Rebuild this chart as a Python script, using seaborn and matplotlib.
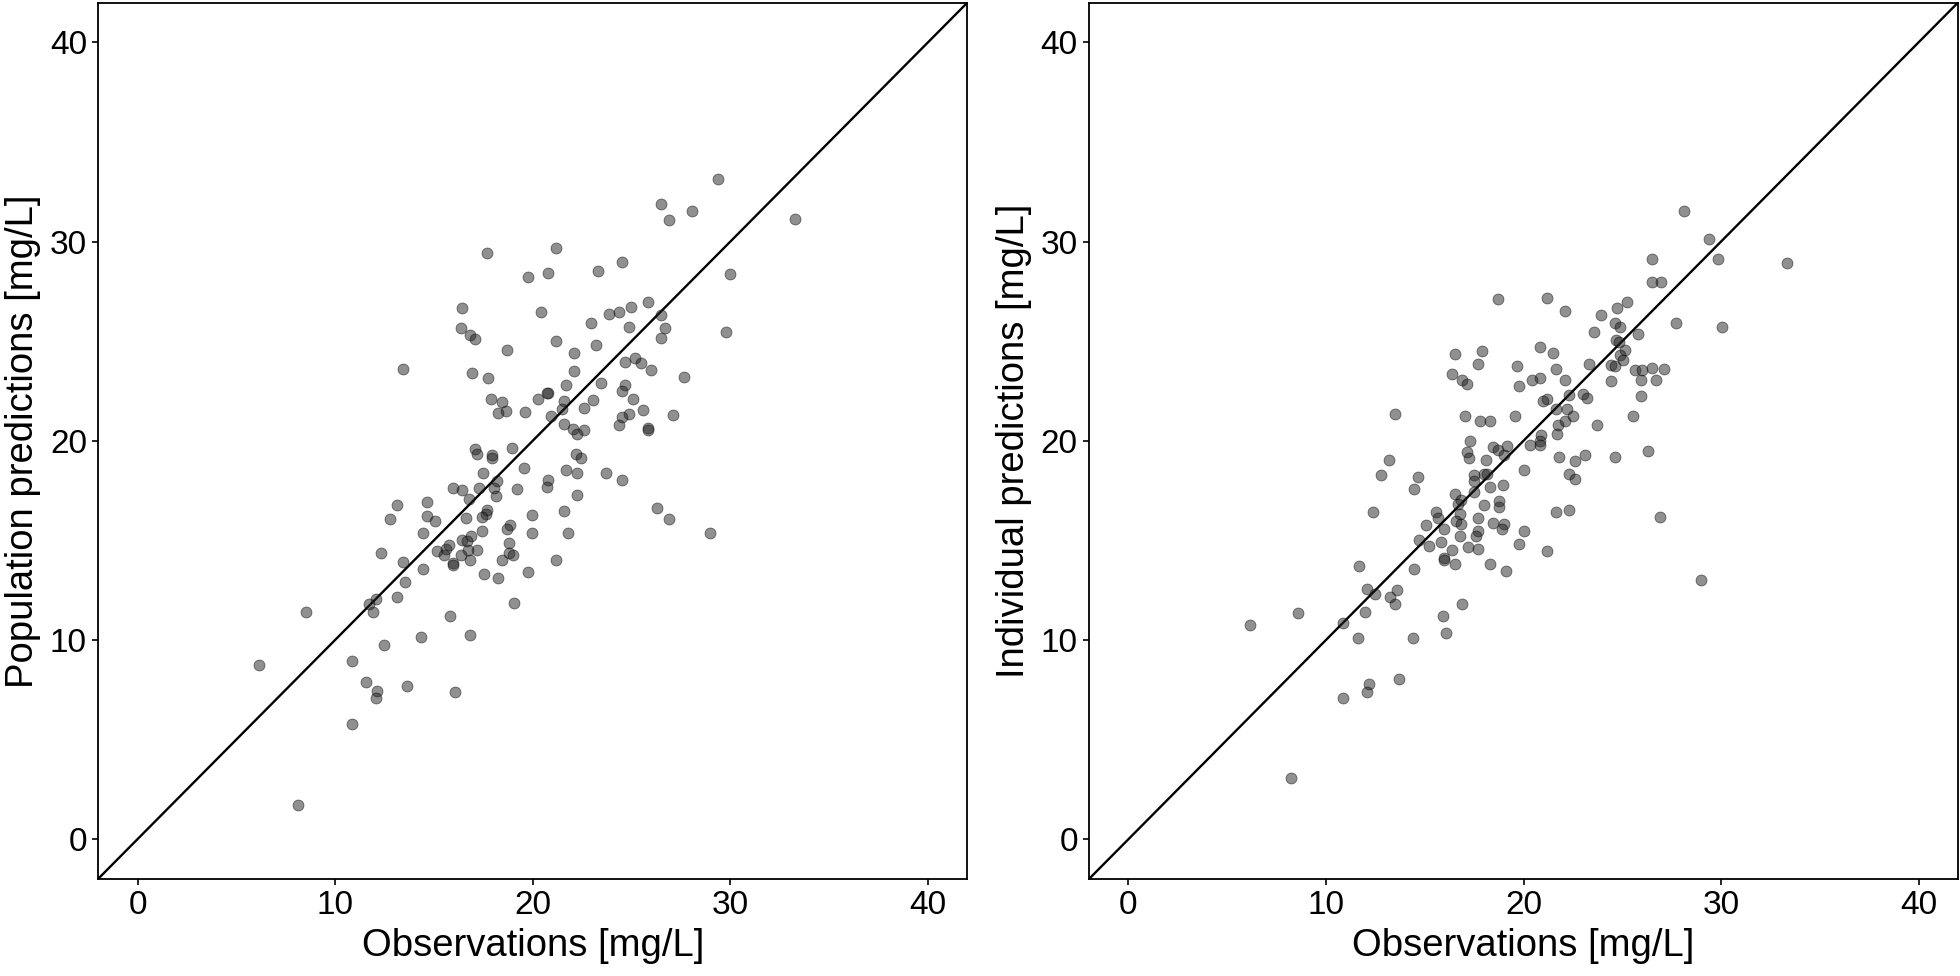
import numpy as np
import pandas as pd
import matplotlib
matplotlib.use("Agg")
import matplotlib.pyplot as plt
import seaborn as sns

# Left panel: observations vs population predictions [mg/L]
obs_pred = [29.39, 26.48, 28.06, 26.89, 33.29, 17.67, 21.16, 24.54, 20.78, 19.76,
            23.28, 29.99, 25.81, 24.99, 24.35, 23.88, 20.40, 16.44, 26.48, 22.96,
            24.86, 26.70, 29.77, 16.37, 16.85, 17.10, 26.48, 21.16, 23.18, 18.69,
            22.07, 25.18, 24.67, 25.46, 13.46, 22.07, 25.97, 16.94, 17.74, 27.68,
            23.47, 21.66, 24.67, 24.54, 20.78, 20.70, 17.89, 20.27, 18.43, 21.57,
            23.06, 25.05, 22.58, 21.47, 19.63, 18.65, 18.24, 25.59, 20.93, 24.86,
            24.54, 27.08, 21.57, 24.35, 22.04, 22.58, 22.26, 25.84, 25.84, 17.07,
            18.97, 17.17, 17.96, 17.93, 22.17, 22.45, 19.57, 17.48, 21.66, 22.26,
            23.69, 18.21, 24.54, 20.78, 20.74, 15.99, 16.44, 17.26, 18.02, 19.19,
            22.26, 18.15, 16.75, 14.66, 13.14, 26.29, 21.57, 14.66, 19.95, 17.67,
            17.64, 17.45, 16.63, 15.07, 12.76, 26.89, 18.84, 18.72, 17.45, 14.44,
            19.95, 21.76, 28.98, 16.88, 16.44, 16.66, 18.81, 15.17, 15.61, 15.77,
            17.17, 16.72, 18.81, 19.00, 16.37, 12.32, 15.52, 15.96, 15.99, 16.85,
            18.46, 21.16, 13.46, 14.47, 17.55, 19.76, 18.24, 13.54, 13.14, 12.07,
            11.69, 19.07, 8.55, 11.94, 15.83, 14.35, 16.85, 12.45, 10.86, 6.14,
            11.56, 12.13, 13.65, 16.06, 12.07, 10.86, 8.14]
pred = [33.16, 31.91, 31.54, 31.10, 31.13, 29.45, 29.66, 28.98, 28.42, 28.23,
        28.51, 28.35, 26.98, 26.70, 26.45, 26.35, 26.48, 26.64, 26.32, 25.92,
        25.73, 25.64, 25.45, 25.67, 25.29, 25.10, 25.17, 25.01, 24.79, 24.57,
        24.42, 24.14, 23.95, 23.89, 23.61, 23.51, 23.54, 23.39, 23.14, 23.20,
        22.89, 22.79, 22.79, 22.51, 22.39, 22.42, 22.11, 22.11, 21.95, 21.98,
        22.05, 22.08, 21.64, 21.61, 21.45, 21.48, 21.39, 21.55, 21.23, 21.36,
        21.20, 21.30, 20.86, 20.80, 20.58, 20.55, 20.33, 20.64, 20.52, 19.58,
        19.64, 19.33, 19.30, 19.14, 19.33, 19.14, 18.64, 18.36, 18.55, 18.39,
        18.39, 17.99, 18.02, 18.05, 17.67, 17.64, 17.52, 17.61, 17.64, 17.58,
        17.30, 17.24, 17.08, 16.92, 16.77, 16.61, 16.46, 16.24, 16.27, 16.52,
        16.33, 16.17, 16.11, 15.96, 16.08, 16.08, 15.77, 15.58, 15.49, 15.39,
        15.36, 15.39, 15.36, 15.24, 15.02, 14.99, 14.86, 14.46, 14.58, 14.77,
        14.52, 14.52, 14.39, 14.24, 14.24, 14.39, 14.27, 13.86, 13.74, 13.99,
        14.02, 13.99, 13.93, 13.58, 13.33, 13.43, 13.11, 12.90, 12.18, 12.05,
        11.80, 11.87, 11.40, 11.40, 11.21, 10.15, 10.24, 9.74, 8.96, 8.74,
        7.87, 7.46, 7.68, 7.37, 7.09, 5.78, 1.72]

# Right panel: observations vs individual predictions [mg/L]
obs_ipred = [28.15, 29.41, 26.53, 29.86, 33.34, 26.53, 26.94, 18.70, 21.20, 25.23,
             24.72, 22.12, 23.90, 27.70, 24.63, 24.91, 30.05, 23.55, 25.80, 24.69,
             24.82, 20.82, 25.13, 17.88, 16.51, 21.49, 24.91, 25.04, 17.69, 19.68,
             23.33, 24.41, 24.63, 21.62, 25.64, 26.02, 26.53, 27.13, 16.39, 20.82,
             20.41, 16.89, 22.12, 24.41, 25.93, 26.72, 17.12, 19.78, 22.31, 23.01,
             23.20, 25.93, 21.20, 21.01, 21.62, 22.22, 13.50, 17.02, 19.59, 22.50,
             25.52, 17.81, 18.29, 22.12, 21.74, 23.71, 21.71, 20.89, 17.31, 20.82,
             20.82, 20.32, 19.18, 18.48, 26.31, 17.12, 18.73, 19.02, 23.11, 21.81,
             24.63, 17.24, 13.19, 18.10, 22.60, 20.00, 18.00, 12.80, 17.50, 18.13,
             22.31, 14.68, 22.60, 17.50, 18.95, 18.29, 14.48, 16.51, 17.50, 16.83,
             18.76, 16.67, 18.00, 18.76, 12.39, 15.59, 16.77, 21.62, 22.31, 26.91,
             15.69, 17.69, 16.58, 16.86, 15.06, 18.48, 19.02, 15.98, 17.72, 20.00,
             18.92, 16.80, 17.59, 14.71, 15.82, 19.78, 15.21, 16.39, 17.21, 17.72,
             21.20, 15.98, 15.98, 16.51, 18.29, 11.66, 14.48, 19.11, 29.00, 12.08,
             13.60, 12.49, 13.22, 13.50, 16.89, 8.59, 11.98, 15.91, 6.15, 10.87,
             11.60, 14.39, 16.10, 13.69, 12.20, 12.08, 10.87, 8.21]
ipred = [31.54, 30.13, 29.10, 29.10, 28.91, 27.95, 27.95, 27.13, 27.17, 26.98,
         26.64, 26.51, 26.32, 25.89, 25.92, 25.73, 25.73, 25.45, 25.36, 25.04,
         24.98, 24.70, 24.54, 24.51, 24.36, 24.42, 24.29, 24.04, 23.83, 23.76,
         23.83, 23.79, 23.76, 23.58, 23.54, 23.54, 23.67, 23.58, 23.33, 23.17,
         23.04, 23.04, 23.04, 23.01, 23.04, 23.04, 22.86, 22.76, 22.30, 22.33,
         22.17, 22.26, 22.08, 21.98, 21.58, 21.58, 21.33, 21.26, 21.23, 21.26,
         21.26, 20.98, 20.98, 20.98, 20.80, 20.80, 20.36, 20.30, 19.98, 19.98,
         19.77, 19.80, 19.73, 19.70, 19.48, 19.45, 19.55, 19.27, 19.30, 19.20,
         19.20, 19.11, 19.02, 19.02, 18.99, 18.55, 18.33, 18.30, 18.27, 18.33,
         18.33, 18.20, 18.08, 17.99, 17.80, 17.67, 17.58, 17.33, 17.42, 17.05,
         16.96, 16.83, 16.80, 16.67, 16.42, 16.42, 16.33, 16.42, 16.52, 16.17,
         16.11, 16.11, 15.96, 15.83, 15.77, 15.89, 15.83, 15.58, 15.49, 15.49,
         15.55, 15.24, 15.21, 15.02, 14.93, 14.83, 14.71, 14.52, 14.68, 14.58,
         14.46, 14.11, 14.02, 13.80, 13.83, 13.71, 13.58, 13.46, 13.02, 12.58,
         12.49, 12.33, 12.18, 11.83, 11.83, 11.37, 11.40, 11.18, 10.77, 10.87,
         10.09, 10.12, 10.34, 8.06, 7.78, 7.37, 7.09, 3.09]

ticks = [0, 10, 20, 30, 40]
lims = (-2, 42)
x_label = "Observations [mg/L]"
y_labels = ["Population predictions [mg/L]", "Individual predictions [mg/L]"]

sns.set_style("white")
plt.rcParams['font.family'] = ['Liberation Sans', 'DejaVu Sans']

fig = plt.figure(figsize=(19.6, 9.76), dpi=100)
ax_left = fig.add_axes([0.050, 0.0994, 0.4436, 0.898])
ax_right = fig.add_axes([0.5556, 0.0994, 0.4434, 0.898])

panels = [
    (ax_left, pd.DataFrame({"obs": obs_pred, "pred": pred}), y_labels[0]),
    (ax_right, pd.DataFrame({"obs": obs_ipred, "pred": ipred}), y_labels[1]),
]

for ax, df, ylab in panels:
    sns.scatterplot(data=df, x="obs", y="pred", ax=ax, color="#222222",
                    alpha=0.5, s=62, linewidth=0.6, edgecolor="black", zorder=3)
    # line of identity
    ax.axline((0, 0), slope=1, color="black", linewidth=1.7, zorder=2)
    ax.set_xlim(lims)
    ax.set_ylim(lims)
    ax.set_xticks(ticks)
    ax.set_yticks(ticks)
    ax.set_xlabel(x_label, fontsize=27.5, color="black", labelpad=5)
    ax.set_ylabel(ylab, fontsize=27.5, color="black", labelpad=6)
    ax.tick_params(axis="both", which="major", labelsize=24, colors="black",
                   length=4, width=1.2, direction="out", bottom=True, left=True,
                   pad=4)
    for sp in ax.spines.values():
        sp.set_color("black")
        sp.set_linewidth(1.3)
        sp.set_visible(True)

fig.savefig("out.png", dpi=100, facecolor="white")
